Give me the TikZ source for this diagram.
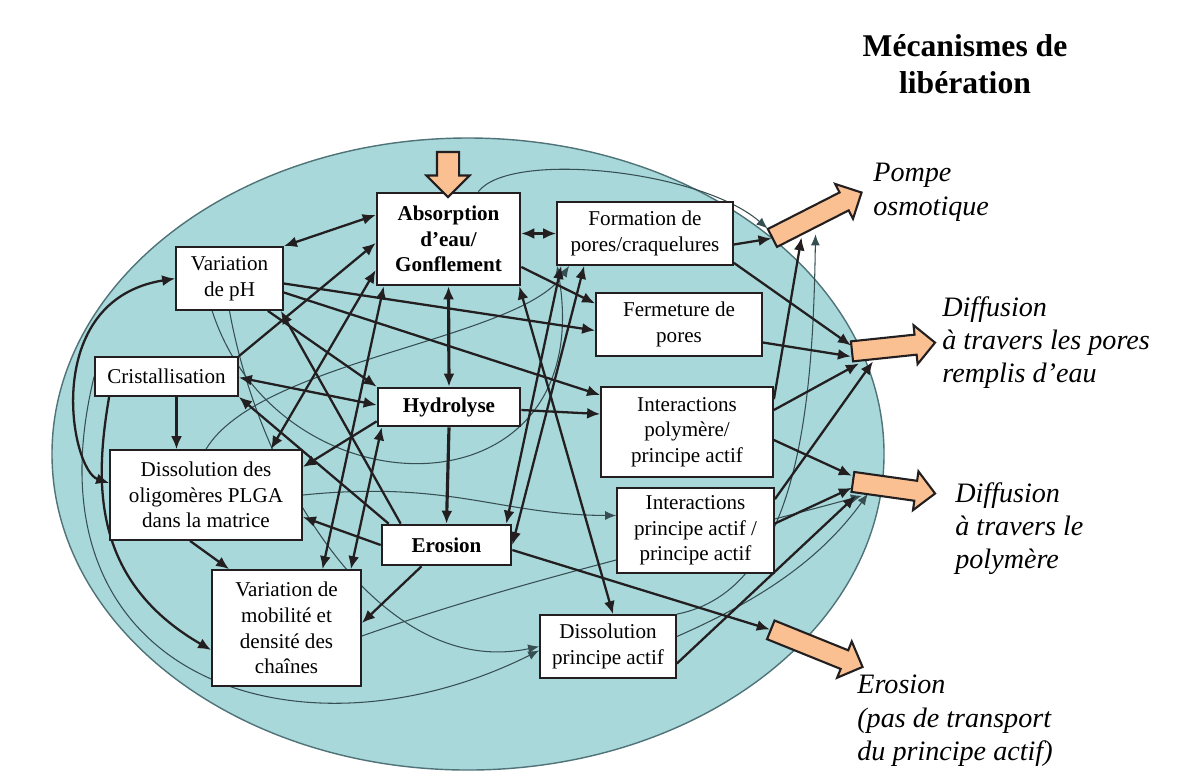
\documentclass[tikz,border=0pt]{standalone}
\usepackage{fontspec}
\setmainfont{Liberation Serif}
\usetikzlibrary{shapes.arrows}
\usetikzlibrary{arrows.meta}
\usetikzlibrary{calc}

\definecolor{matrice}{RGB}{168,216,218}
\definecolor{matborder}{RGB}{80,115,120}
\definecolor{peche}{RGB}{250,192,146}
\definecolor{encre}{RGB}{35,31,32}
\definecolor{fil}{RGB}{55,78,82}

\pgfdeclarelayer{links}
\pgfsetlayers{links,main}

\tikzset{
  box/.style={draw=encre, line width=1pt, fill=white, align=center, inner sep=1pt,
    font=\fontsize{12}{14.6}\selectfont},
  keybox/.style={box, line width=1.5pt, font=\fontsize{12}{14.6}\selectfont\bfseries},
  release/.style={single arrow, draw=encre, line width=1.2pt, fill=peche,
    inner xsep=0pt, inner ysep=1.8mm, minimum width=0pt, single arrow head extend=1.9mm},
  link/.style={draw=encre, line width=1.3pt, >={Latex[length=2.6mm,width=2.2mm]}},
  thinlink/.style={draw=fil, line width=0.6pt, >={Latex[length=2.2mm,width=1.8mm]}},
  mech/.style={anchor=north west, align=left, inner sep=0pt,
    font=\fontsize{16}{19}\selectfont\itshape},
}

\begin{document}
\begin{tikzpicture}[x=0.2mm, y=-0.2mm]
  \useasboundingbox (0,0) rectangle (1177,771);
  \begin{pgfonlayer}{links}
    % la matrice
    \filldraw[fill=matrice, draw=matborder, line width=0.8pt] (468,454) ellipse [x radius=83.2mm, y radius=63.2mm];
  \end{pgfonlayer}

  % mecanismes
  \node[keybox, minimum width=28.6mm, minimum height=18.4mm] (absorb) at (448.5,239) {Absorption\\d’eau/\\Gonflement};
  \node[keybox, minimum width=28.4mm, minimum height=7.6mm] (hydro) at (449,407) {Hydrolyse};
  \node[keybox, minimum width=25.8mm, minimum height=8mm] (erosion) at (446.5,545) {Erosion};
  \node[box, minimum width=35.2mm, minimum height=12.6mm] (pores) at (645,233.5) {Formation de\\pores/craquelures};
  \node[box, minimum width=33.2mm, minimum height=12.6mm] (ferm) at (679,324.5) {Fermeture de\\pores};
  \node[box, minimum width=34.4mm, minimum height=18mm] (interpoly) at (687,432) {Interactions\\polymère/\\principe actif};
  \node[box, minimum width=31.4mm, minimum height=17mm] (interpa) at (695.5,530.5) {Interactions\\principe actif /\\principe actif};
  \node[box, minimum width=27.2mm, minimum height=12.6mm] (dissolpa) at (608,646.5) {Dissolution\\principe actif};
  \node[box, minimum width=21.4mm, minimum height=12.6mm] (varph) at (229.5,278.5) {Variation\\de pH};
  \node[box, minimum width=28.6mm, minimum height=7.8mm] (crist) at (166.5,376.5) {Cristallisation};
  \node[box, minimum width=38.4mm, minimum height=18mm] (dissoligo) at (206,495) {Dissolution des\\oligomères PLGA\\dans la matrice};
  \node[box, minimum width=29.8mm, minimum height=23.2mm] (mobil) at (286.5,628) {Variation de\\mobilité et\\densité des\\chaînes};

  % liberation
  \node[release, rotate=-90, minimum height=9mm, inner ysep=2mm, single arrow head extend=2.1mm] (eau) at (448,169) {};
  \node[release, rotate=27, minimum height=20mm] (pompe) at (812.5,217.5) {};
  \node[release, rotate=6, minimum height=16.7mm] (diffpores) at (888.5,347.5) {};
  \node[release, rotate=-8, minimum height=16.6mm] (diffpoly) at (889,487) {};
  \node[release, rotate=-22, minimum height=19.8mm] (erosarrow) at (812,646.5) {};

  \node[font=\fontsize{18}{21}\selectfont\bfseries, align=center] (titre) at (965,64) {Mécanismes de\\libération};
  \node[mech] (pompetxt) at (873,163) {Pompe\\osmotique};
  \node[mech] (porestxt) at (942,296) {Diffusion\\à travers les pores\\remplis d’eau};
  \node[mech] (polytxt) at (955,482) {Diffusion\\à travers le\\polymère};
  \node[mech] (erostxt) at (857,675) {Erosion\\(pas de transport\\du principe actif)};

  \begin{pgfonlayer}{links}
    % thin curves
    \draw[thinlink,->] (varph.south) .. controls (260,480) and (380,680) .. (dissolpa.west);
    \draw[thinlink,->] (crist.west) .. controls (20,680) and (300,770) .. ($(dissolpa.west)+(0,4)$);
    \draw[thinlink,->] (dissoligo.east) .. controls (450,480) and (500,515) .. ($(interpa.west)+(0,-15)$);
    \draw[thinlink,->] ($(mobil.east)+(0,8)$) .. controls (520,580) and (700,540) .. ($(diffpoly.tail)+(10,14)$);
    \draw[thinlink,->] ($(absorb.north east)+(-43,0)$) .. controls (510,150) and (700,170) .. ($(pompe.tail)+(-4,-10)$);
    \draw[thinlink,->] (dissolpa.north east) .. controls (800,590) and (813,400) .. ($(pompe.tail)+(44,-4)$);
    \draw[thinlink,->] ($(dissolpa.east)+(0,-10)$) .. controls (760,600) and (820,560) .. ($(diffpoly.tail)+(16,12)$);
    \draw[thinlink,->] (dissoligo.north) .. controls (260,360) and (520,340) .. ($(pores.south west)+(13,0)$);
    \draw[thinlink,->] ($(varph.south west)+(37,0)$) .. controls (280,520) and (600,520) .. ($(pores.south west)+(1,0)$);

    % left curves
    \draw[link,<->] ($(dissoligo.west)+(0,-12)$) .. controls (70,470) and (40,300) .. (varph.west);
    \draw[link,->] ($(crist.south west)+(15,0)$) .. controls (95,480) and (90,580) .. ($(mobil.west)+(0,22)$);

    % main links
    \draw[link,<->] ($(absorb.west)+(0,-24)$) -- (varph.north east);
    \draw[link,<->] (absorb.east |- pores.west) -- (pores.west);
    \draw[link,<->, line width=1.8pt] (absorb.south) -- (hydro.north);
    \draw[link,->, line width=1.8pt] (hydro.south) -- (erosion.north);
    \draw[link,->] ($(crist.south)+(10,0)$) -- ($(crist.south |- dissoligo.north)+(10,0)$);
    \draw[link,->] ($(dissoligo.south)+(-16,0)$) -- ($(mobil.north west)+(18,0)$);
    \draw[link,->] ($(varph.east)+(0,5)$) -- ($(ferm.west)+(0,6)$);
    \draw[link,->] ($(varph.east)+(0,14)$) -- ($(interpoly.west)+(0,-37)$);
    \draw[link,->] ($(absorb.east)+(0,28)$) -- ($(ferm.west)+(0,-21)$);
    \draw[link,->] ($(hydro.east)+(0,3)$) -- ($(interpoly.west)+(0,-18)$);
    \draw[link,<->] ($(pores.south west)+(5,0)$) -- ($(erosion.north east)+(-6,0)$);
    \draw[link,<->] ($(pores.south west)+(28,0)$) -- (erosion.east);
    \draw[link,<->] ($(absorb.south east)+(-2,0)$) -- ($(dissolpa.north)+(5,0)$);
    \draw[link,->] (erosion.west) -- ($(dissoligo.east)+(0,22)$);
    \draw[link,->] ($(erosion.south)+(-25,0)$) -- ($(mobil.east)+(0,-5)$);
    \draw[link,->] ($(erosion.east)+(0,5)$) -- (erosarrow.tail);
    \draw[link,->] ($(hydro.south west)+(0,-6)$) -- ($(dissoligo.east)+(0,-28)$);
    \draw[link,<->] ($(crist.east)+(0,1)$) -- ($(hydro.west)+(0,-2)$);
    \draw[link,->] ($(erosion.north west)+(8,0)$) -- (crist.south east);
    \draw[link,->] ($(varph.south east)+(-16,0)$) -- (hydro.north west);
    \draw[link,->] ($(erosion.north west)+(20,0)$) -- ($(varph.south east)+(-3,0)$);
    \draw[link,->] (crist.north east) -- ($(absorb.west)+(0,4)$);
    \draw[link,<->] ($(absorb.west)+(0,31)$) -- ($(dissoligo.north east)+(-32,0)$);
    \draw[link,<->] ($(mobil.north)+(36,0)$) -- ($(absorb.south west)+(8,0)$);
    \draw[link,<->] ($(mobil.north east)+(-11,0)$) -- ($(hydro.south west)+(5,0)$);
    \draw[link,->] ($(pores.east)+(0,11)$) -- (pompe.tail);
    \draw[link,->] ($(pores.south east)+(0,-3)$) -- ($(diffpores.tail)+(0,-6)$);
    \draw[link,->] ($(ferm.east)+(0,18)$) -- ($(diffpores.tail)+(0,5)$);
    \draw[link,->] ($(interpoly.east)+(0,-22)$) -- ($(diffpores.tail)+(8,12)$);
    \draw[link,->] ($(interpa.north east)+(0,12)$) -- ($(diffpores.tail)+(22,10)$);
    \draw[link,->] ($(interpoly.east)+(0,8)$) -- ($(diffpoly.tail)+(0,-6)$);
    \draw[link,->] ($(interpa.east)+(0,-7)$) -- ($(diffpoly.tail)+(0,6)$);
    \draw[link,->] ($(interpoly.north east)+(0,13)$) -- ($(pompe.tail)+(30,-1)$);
    \draw[link,->] ($(dissolpa.east)+(0,17)$) -- ($(diffpoly.tail)+(4,14)$);
  \end{pgfonlayer}
\end{tikzpicture}
\end{document}
